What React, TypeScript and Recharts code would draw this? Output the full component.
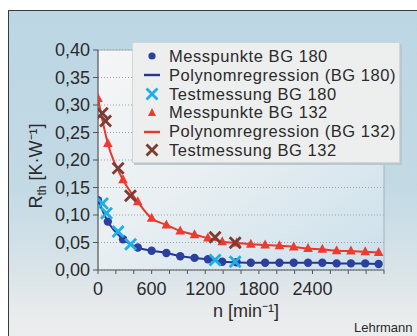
import React from 'react';
import { ComposedChart, Line, Scatter, XAxis, YAxis, CartesianGrid, ReferenceLine } from 'recharts';

// ---- data ----
const rpmPoints = [0, 110, 280, 445, 600, 765, 920, 1080, 1230, 1390, 1550, 1710, 1870, 2030, 2190, 2350, 2510, 2670, 2830, 2990, 3140];
const rthBG180 = [0.127, 0.088, 0.056, 0.041, 0.035, 0.031, 0.025, 0.022, 0.0195, 0.015, 0.014, 0.0133, 0.0133, 0.0133, 0.0133, 0.0133, 0.0133, 0.012, 0.012, 0.012, 0.011];
const rthBG132 = [0.312, 0.230, 0.164, 0.124, 0.094, 0.082, 0.071, 0.064, 0.058, 0.0515, 0.049, 0.047, 0.0455, 0.044, 0.042, 0.039, 0.0376, 0.035, 0.0345, 0.033, 0.032];

const testRpmBG180 = [50, 95, 225, 365, 1310, 1535];
const testRthBG180 = [0.121, 0.103, 0.070, 0.047, 0.018, 0.015];
const testRpmBG132 = [48, 85, 225, 363, 1310, 1535];
const testRthBG132 = [0.285, 0.271, 0.185, 0.135, 0.0594, 0.0496];

const xMinorTicks = [0, 200, 400, 600, 800, 1000, 1200, 1400, 1600, 1800, 2000, 2200, 2400, 2600, 2800, 3000, 3200];
const xTickLabels = [0, 600, 1200, 1800, 2400];
const yTicks = [0, 0.05, 0.1, 0.15, 0.2, 0.25, 0.3, 0.35, 0.4];

const legendLabels = [
  'Messpunkte BG 180',
  'Polynomregression (BG 180)',
  'Testmessung BG 180',
  'Messpunkte BG 132',
  'Polynomregression (BG 132)',
  'Testmessung BG 132',
];

const toXY = (xs: number[], ys: number[]) => xs.map((x, i) => ({ x, y: ys[i] }));
const dataBG180 = toXY(rpmPoints, rthBG180);
const dataBG132 = toXY(rpmPoints, rthBG132);
const dataTest180 = toXY(testRpmBG180, testRthBG180);
const dataTest132 = toXY(testRpmBG132, testRthBG132);

// ---- styles ----
const FONT = '"Liberation Sans", Arial, Helvetica, sans-serif';
const TXT = '#2b2b2b';
const C_BLUE_DOT = '#2c3f9c';
const C_BLUE_LINE = '#24378e';
const C_CYAN = '#1faee6';
const C_RED_TRI = '#ef3b2f';
const C_RED_LINE = '#e6392c';
const C_BROWN = '#7d3c33';

const Circle = (p: any) => <circle cx={p.cx} cy={p.cy} r={4.2} fill={C_BLUE_DOT} />;
const Tri = (p: any) => {
  const { cx, cy } = p;
  return <polygon points={`${cx},${cy - 5.5} ${cx + 4.8},${cy + 3.5} ${cx - 4.8},${cy + 3.5}`} fill={C_RED_TRI} />;
};
const makeX = (color: string) => (p: any) => {
  const { cx, cy } = p;
  const s = 5.5;
  return (
    <g stroke={color} strokeWidth={2.8} strokeLinecap="butt">
      <line x1={cx - s} y1={cy - s} x2={cx + s} y2={cy + s} />
      <line x1={cx - s} y1={cy + s} x2={cx + s} y2={cy - s} />
    </g>
  );
};
const XCyan = makeX(C_CYAN);
const XBrown = makeX(C_BROWN);

const fmtY = (v: number) => v.toFixed(2).replace('.', ',');
const fmtX = (v: number) => (xTickLabels.includes(v) ? String(v) : '');

const LegendIcon = ({ i }: { i: number }) => {
  const w = 20, h = 16, cx = 10, cy = 8;
  let el: React.ReactNode = null;
  if (i === 0) el = <circle cx={cx} cy={cy} r={3.6} fill={C_BLUE_DOT} />;
  if (i === 1) el = <line x1={2} y1={cy} x2={18} y2={cy} stroke={C_BLUE_LINE} strokeWidth={2.4} />;
  if (i === 2) el = XCyan({ cx, cy });
  if (i === 3) el = <polygon points={`${cx},${cy - 5} ${cx + 4},${cy + 3} ${cx - 4},${cy + 3}`} fill={C_RED_TRI} />;
  if (i === 4) el = <line x1={2} y1={cy} x2={18} y2={cy} stroke={C_RED_LINE} strokeWidth={2.4} />;
  if (i === 5) el = XBrown({ cx, cy });
  return <svg width={w} height={h} style={{ display: 'block' }}>{el}</svg>;
};

export default function App() {
  return (
    <div style={{ position: 'absolute', left: 0, top: 0, width: 417, height: 336, overflow: 'hidden', background: '#ffffff', fontFamily: FONT }}>
      <div
        style={{
          position: 'absolute', left: 8, top: 10, right: 0, bottom: 0,
          borderLeft: '1.5px solid #3a3a3a', borderTop: '1.5px solid #3a3a3a',
          background: 'linear-gradient(to bottom, #bcd6e3 0%, #c3dae5 55%, #d9e4e9 80%, #e8ebec 92%, #eceeee 100%)',
        }}
      />
      <div style={{ position: 'absolute', left: 0, top: 0 }}>
        <ComposedChart width={417} height={336} margin={{ top: 50, right: 33, bottom: 0, left: 0 }}>
          <defs>
            <linearGradient id="plotBg" x1="0" y1="0" x2="1" y2="1">
              <stop offset="0%" stopColor="#f5f6f6" />
              <stop offset="45%" stopColor="#e9eff2" />
              <stop offset="100%" stopColor="#cbe0eb" />
            </linearGradient>
          </defs>
          <CartesianGrid fill="url(#plotBg)" vertical={false} stroke="#9aa3a8" strokeDasharray="1 2" />
          <XAxis
            type="number" dataKey="x" domain={[0, 3200]} ticks={xMinorTicks} interval={0}
            tickFormatter={fmtX} allowDataOverflow
            axisLine={{ stroke: '#555', strokeWidth: 1.2 }} tickLine={{ stroke: '#555' }}
            tickSize={4} tickMargin={8} height={66}
            tick={{ fill: TXT, fontSize: 18, fontFamily: FONT }}
            label={{
              content: () => (
                <text x={246} y={317} textAnchor="middle" fill={TXT} fontSize={18} fontFamily={FONT}>n [min⁻¹]</text>
              ),
            }}
          />
          <YAxis
            type="number" domain={[0, 0.4]} ticks={yTicks} interval={0} tickFormatter={fmtY}
            axisLine={{ stroke: '#555', strokeWidth: 1.2 }} tickLine={{ stroke: '#555' }}
            tickSize={5} tickMargin={3} width={98}
            tick={{ fill: TXT, fontSize: 18, fontFamily: FONT }}
            label={{
              content: () => (
                <text x={0} y={0} transform="translate(42,166) rotate(-90)" textAnchor="middle" fill={TXT} fontSize={18} fontFamily={FONT}>
                  R<tspan fontSize={12} dy={4}>th</tspan><tspan dy={-4}> [K·W⁻¹]</tspan>
                </text>
              ),
            }}
          />
          <ReferenceLine y={0.4} stroke="#a9b0b4" strokeWidth={1} />
          <ReferenceLine x={3200} stroke="#a9b0b4" strokeWidth={1} />
          <Line data={dataBG132} dataKey="y" type="monotone" stroke={C_RED_LINE} strokeWidth={2} dot={false} isAnimationActive={false} />
          <Line data={dataBG180} dataKey="y" type="monotone" stroke={C_BLUE_LINE} strokeWidth={2} dot={false} isAnimationActive={false} />
          <Scatter data={dataBG180} dataKey="y" shape={Circle} isAnimationActive={false} />
          <Scatter data={dataBG132} dataKey="y" shape={Tri} isAnimationActive={false} />
          <Scatter data={dataTest180} dataKey="y" shape={XCyan} isAnimationActive={false} />
          <Scatter data={dataTest132} dataKey="y" shape={XBrown} isAnimationActive={false} />
        </ComposedChart>
      </div>
      <div
        style={{
          position: 'absolute', left: 132, top: 42, width: 268, height: 121,
          background: '#edeeee', border: '1px solid #d2d6d7',
          boxShadow: '2px 2px 0 #b9c7ce', boxSizing: 'border-box', paddingTop: 4,
        }}
      >
        {legendLabels.map((t, i) => (
          <div key={t} style={{ display: 'flex', alignItems: 'center', height: 18.8, whiteSpace: 'nowrap' }}>
            <div style={{ width: 34, display: 'flex', justifyContent: 'center', paddingLeft: 2 }}>
              <LegendIcon i={i} />
            </div>
            <span style={{ fontSize: 16.5, letterSpacing: 0.55, color: TXT, fontFamily: FONT, lineHeight: '18.8px' }}>{t}</span>
          </div>
        ))}
      </div>
      <div style={{ position: 'absolute', left: 354, top: 320, fontSize: 13, color: TXT, fontFamily: FONT }}>Lehrmann</div>
    </div>
  );
}
